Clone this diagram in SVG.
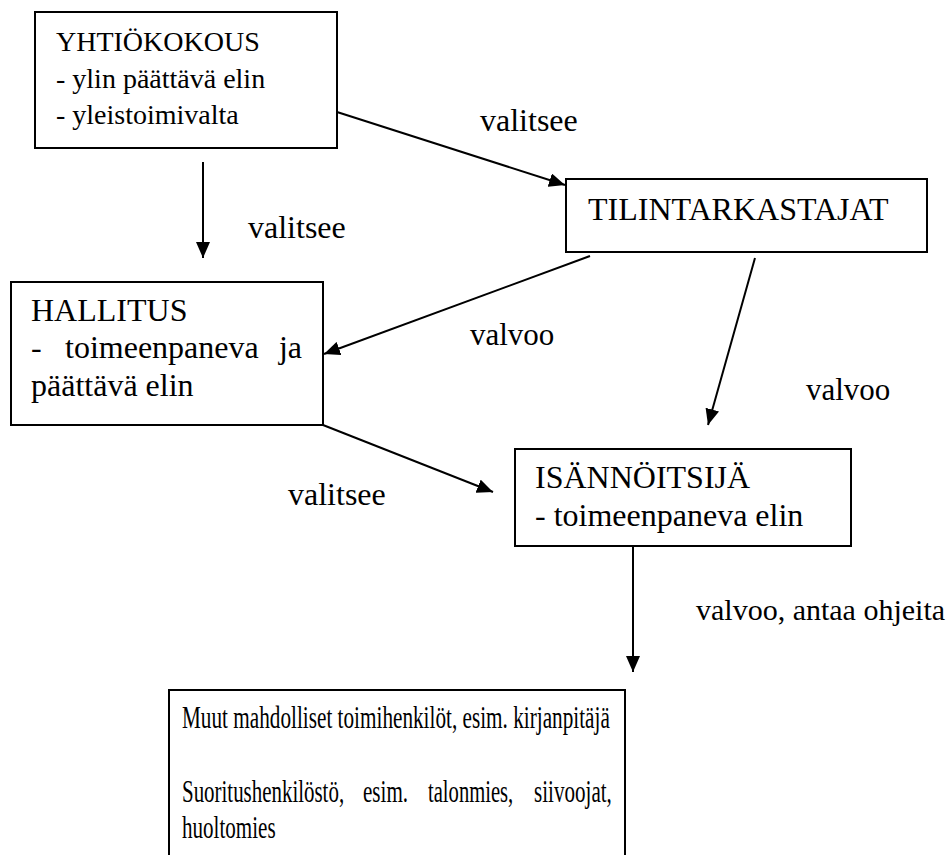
<svg xmlns="http://www.w3.org/2000/svg" width="948" height="855" viewBox="0 0 948 855">
<style>
.box{fill:#fff;stroke:#000;stroke-width:2}
.t{font-family:"Liberation Serif","Times New Roman",serif;font-size:28px;fill:#000}
.l{font-size:32px}
.m{font-size:31px}
.n{font-size:31px}
.c{stroke:#000;stroke-width:2;fill:none}
</style>
<defs>
<marker id="ah" markerWidth="17" markerHeight="14" refX="16" refY="7" orient="auto" markerUnits="userSpaceOnUse">
<path d="M0,0 L16,7 L0,14 z" fill="#000"/>
</marker>
</defs>
<rect width="948" height="855" fill="#fff"/>
<g id="connectors">
<line class="c" x1="337" y1="112" x2="565" y2="185" marker-end="url(#ah)"/>
<line class="c" x1="203" y1="162" x2="203" y2="258" marker-end="url(#ah)"/>
<line class="c" x1="590" y1="256" x2="324" y2="354" marker-end="url(#ah)"/>
<line class="c" x1="755" y1="258" x2="708" y2="425" marker-end="url(#ah)"/>
<line class="c" x1="323" y1="425" x2="493" y2="492" marker-end="url(#ah)"/>
<line class="c" x1="633" y1="546" x2="633" y2="672" marker-end="url(#ah)"/>
<text class="t l" x="480" y="131">valitsee</text>
<text class="t l" x="248" y="238">valitsee</text>
<text class="t m" x="470" y="345">valvoo</text>
<text class="t m" x="806" y="400">valvoo</text>
<text class="t l" x="288" y="505">valitsee</text>
<text class="t" x="696" y="620" style="font-size:30px">valvoo, antaa ohjeita</text>
</g>
<g id="yhtiokokous">
<rect class="box" x="35" y="12" width="302" height="136"/>
<text class="t" x="56" y="51">YHTIÖKOKOUS</text>
<text class="t" x="56" y="88">- ylin päättävä elin</text>
<text class="t" x="56" y="124">- yleistoimivalta</text>
</g>
<g id="tilintarkastajat">
<rect class="box" x="566" y="179" width="361" height="73"/>
<text class="t l" x="588" y="220">TILINTARKASTAJAT</text>
</g>
<g id="hallitus">
<rect class="box" x="11" y="282" width="312" height="143"/>
<text class="t l" x="31" y="321">HALLITUS</text>
<text class="t l" x="31" y="358">-</text>
<text class="t l" x="65" y="358">toimeenpaneva</text>
<text class="t l" x="302" y="358" text-anchor="end">ja</text>
<text class="t l" x="31" y="396">päättävä elin</text>
</g>
<g id="isannoitsija">
<rect class="box" x="515" y="449" width="336" height="97"/>
<text class="t l" x="535" y="488">ISÄNNÖITSIJÄ</text>
<text class="t l" x="535" y="526">- toimeenpaneva elin</text>
</g>
<g id="toimihenkilot">
<rect class="box" x="169" y="690" width="456" height="180"/>
<text class="t n" transform="translate(182,728) scale(0.685,1)">Muut mahdolliset toimihenkilöt, esim. kirjanpitäjä</text>
<text class="t n" transform="translate(182,802) scale(0.675,1)">Suoritushenkilöstö,</text>
<text class="t n" transform="translate(363,802) scale(0.68,1)">esim.</text>
<text class="t n" transform="translate(428,802) scale(0.665,1)">talonmies,</text>
<text class="t n" transform="translate(534,802) scale(0.68,1)">siivoojat,</text>
<text class="t n" transform="translate(182,838) scale(0.68,1)">huoltomies</text>
</g>
</svg>
